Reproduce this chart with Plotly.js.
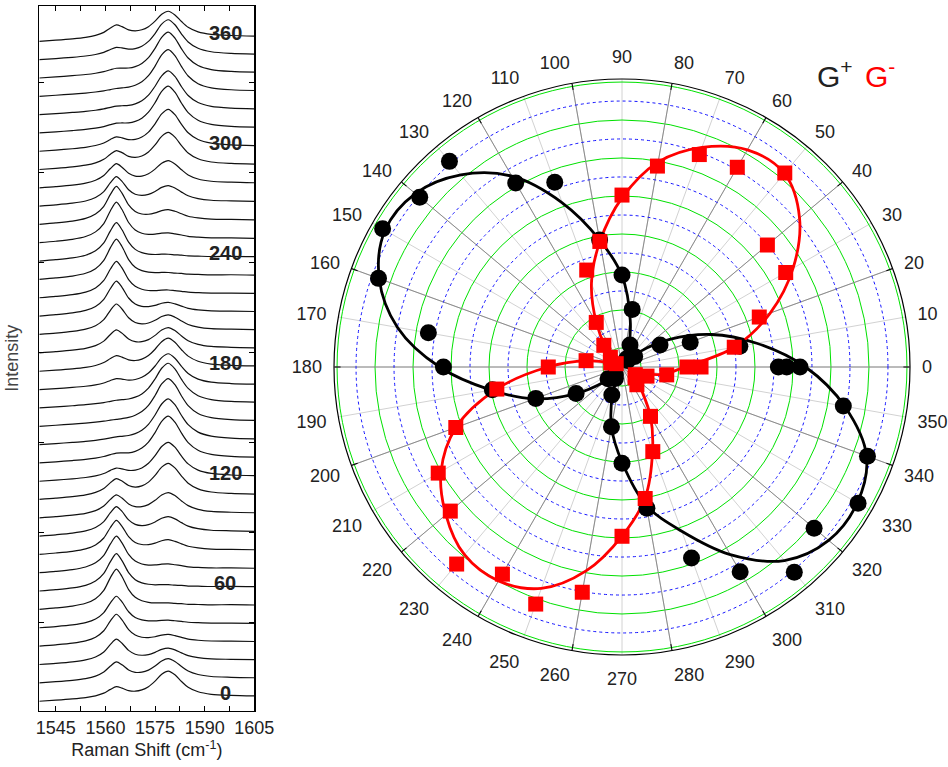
<!DOCTYPE html>
<html>
<head>
<meta charset="utf-8">
<script src="https://cdn.plot.ly/plotly-3.0.1.min.js"></script>
<style>html,body{margin:0;padding:0;background:#fff;}#chart{width:948px;height:767px;}</style>
</head>
<body>
<div id="chart"></div>
<script>
// ---------- Left panel: Raman spectra ----------
const wavenumbers = [1540,1545,1550,1554,1557,1559.5,1561.5,1563.3,1565,1567,1569,1571,1573,1575,1577,1579,1581,1583,1585,1588,1592,1598,1605];
const baselineShape = [0,0.6,1.3,1.8,2.2,2.5,2.7,2.9,3.0,3.2,3.4,3.6,3.7,3.9,4.0,4.1,4.2,4.3,4.4,4.5,4.7,4.9,5.0];
const gMinusProfile = [0.02,0.04,0.07,0.13,0.24,0.45,0.78,1.0,0.8,0.45,0.24,0.14,0.09,0.06,0.05,0.04,0.03,0.03,0.02,0.02,0.01,0.01,0.0];
const gPlusProfile  = [0.01,0.02,0.03,0.04,0.05,0.06,0.07,0.08,0.10,0.13,0.18,0.26,0.40,0.62,0.88,1.0,0.86,0.60,0.38,0.20,0.10,0.05,0.03];
const spectrumAngles = [0,10,20,30,40,50,60,70,80,90,100,110,120,130,140,150,160,170,180,190,200,210,220,230,240,250,260,270,280,290,300,310,320,330,340,350,360];
const gPlusHeights  = [26,20,12,7,3,1.5,1.5,4,10,15,21,32,35,43,42,44,41,32,29,21,15,9,3,2,2,5,10,16,23,33,38,43,40,43,42,36,26];
const gMinusHeights = [10,17,22,29,29,38,35,34,31,26,19,16,8,4,2,1,2,6,11,19,27,32,34,38,36,38,35,26,20,14,9,4,3,2,4,7,12];
const spectrumLabels = ['0','60','120','180','240','300','360'];

// ---------- Right panel: polar intensities ----------
const polarAngles = [0,10,20,30,40,50,60,70,80,90,100,110,120,130,140,150,160,170,180,190,200,210,220,230,240,250,260,270,280,290,300,310,320,330,340,350,360];
const angularTickLabels = ['0','10','20','30','40','50','60','70','80','90','100','110','120','130','140','150','160','170','180','190','200','210','220','230','240','250','260','270','280','290','300','310','320','330','340','350'];
const gPlusR  = [8.67,6.30,3.82,2.31,0.87,0.45,0.50,1.23,3.08,4.84,6.79,10.35,11.19,14.13,13.90,14.55,13.64,10.35,9.40,6.93,4.83,2.79,0.96,0.55,0.70,1.57,3.19,5.07,7.55,10.70,12.44,14.11,13.20,14.35,13.75,11.83,9.37];
const gPlusExtraTheta = [0];
const gPlusExtraR = [8.23];
const gMinusR = [3.42,6.00,7.69,9.95,9.99,13.33,12.14,11.90,10.74,9.05,6.71,5.43,2.71,1.49,0.80,0.35,0.63,1.92,3.88,6.69,9.31,11.17,11.80,13.54,12.59,13.28,12.04,8.91,7.03,4.74,3.00,1.22,0.90,0.81,1.40,2.39,4.16];
const gPlusFit  = [9.66,7.2,5.0,2.9,1.3,0.4,0.3,1.0,2.5,4.8,6.8,9.2,11.6,13.2,14.2,14.4,13.6,12.0,9.6,7.0,4.9,2.8,1.2,0.4,0.4,1.4,3.2,5.0,7.4,9.2,11.4,13.3,14.2,14.3,13.7,11.9,9.66];
const gMinusFit = [3.3,6.0,8.3,10.4,12.2,13.3,13.2,12.3,10.95,8.9,6.7,4.7,2.7,1.3,0.5,0.3,0.6,1.9,3.9,6.7,9.3,11.0,12.1,12.9,13.0,12.4,10.9,8.9,7.0,4.7,3.0,1.6,1.0,0.6,1.0,2.2,3.3];
const greenRings = [1,3,5,7,9,11,13,15];
const blueRings = [2,4,6,8,10,12,14];

// ---------- build ----------
const STEP = 18.33, BASE0 = 9;
const traces = [];
spectrumAngles.forEach((a, i) => {
  const y = wavenumbers.map((w, k) => BASE0 + STEP * i + baselineShape[k] + gMinusHeights[i] * gMinusProfile[k] + gPlusHeights[i] * gPlusProfile[k]);
  traces.push({type:'scatter', mode:'lines', x: wavenumbers, y: y, xaxis:'x', yaxis:'y',
    line:{color:'#111', width:1.2, shape:'spline', smoothing:0.8}, hoverinfo:'skip'});
});

const annotations = spectrumLabels.map(lbl => {
  const i = spectrumAngles.indexOf(Number(lbl));
  return {xref:'x', yref:'y', x:1596.2, y: BASE0 + 5 + STEP * i + 4, text:'<b>'+lbl+'</b>', showarrow:false,
    font:{family:'Liberation Sans, Arial, sans-serif', size:20, color:'#222'}, xanchor:'center', yanchor:'middle'};
});
annotations.push({xref:'paper', yref:'paper', x:815/948, y:1-74/767, xanchor:'left', yanchor:'middle', showarrow:false,
  text:'G<sup>+</sup>', font:{family:'Liberation Sans, Arial, sans-serif', size:30, color:'#222'}});
annotations.push({xref:'paper', yref:'paper', x:863/948, y:1-74/767, xanchor:'left', yanchor:'middle', showarrow:false,
  text:'G<sup>-</sup>', font:{family:'Liberation Sans, Arial, sans-serif', size:30, color:'#ff0000'}});

// invisible anchor so the underlying polar grid subplot is drawn
traces.push({type:'scatterpolar', subplot:'polar', mode:'markers', theta:[0], r:[0],
  marker:{size:1, color:'rgba(0,0,0,0)'}, hoverinfo:'skip'});
traces.push({type:'scatterpolar', subplot:'polar2', mode:'lines', theta: polarAngles, r: gPlusFit,
  line:{color:'#000', width:2.8, shape:'spline', smoothing:1}, hoverinfo:'skip'});
traces.push({type:'scatterpolar', subplot:'polar2', mode:'lines', theta: polarAngles, r: gMinusFit,
  line:{color:'#ff0000', width:2.8, shape:'spline', smoothing:1}, hoverinfo:'skip'});
traces.push({type:'scatterpolar', subplot:'polar2', mode:'markers', theta: polarAngles.concat(gPlusExtraTheta), r: gPlusR.concat(gPlusExtraR),
  marker:{symbol:'circle', size:17, color:'#000'}, hoverinfo:'skip'});
traces.push({type:'scatterpolar', subplot:'polar2', mode:'markers', theta: polarAngles, r: gMinusR,
  marker:{symbol:'square', size:15, color:'#ff0000'}, hoverinfo:'skip'});

const W = 948, H = 767;
const cx = 622, cy = 367, R = 288;
const pdom = {x:[(cx-R)/W, (cx+R)/W], y:[1-(cy+R)/H, 1-(cy-R)/H]};
const font = 'Liberation Sans, Arial, sans-serif';

const layout = {
  width: W, height: H, margin:{l:0,r:0,t:0,b:0}, showlegend:false,
  paper_bgcolor:'#fff', plot_bgcolor:'#fff',
  font:{family: font, color:'#222'},
  xaxis:{domain:[39.3/W, 254.3/W], range:[1540,1605], tickmode:'linear', tick0:1545, dtick:15,
    ticks:'inside', ticklen:5, tickcolor:'#000', tickwidth:1, mirror:'ticks', showline:true, linecolor:'#000', linewidth:1.3,
    minor:{tickmode:'linear', tick0:1545, dtick:7.5, ticks:'inside', ticklen:5, tickcolor:'#000', showgrid:false},
    showgrid:false, zeroline:false, tickfont:{size:18, family:font, color:'#222'},
    title:{text:'Raman Shift (cm<sup>-1</sup>)', font:{size:18, family:font, color:'#222'}, standoff:4}},
  yaxis:{domain:[1-710.7/H, 1-6/H], range:[0,704.7], tickmode:'array', tickvals:[88,178,268,358,448,538,628],
    ticks:'inside', ticklen:5, tickcolor:'#000', mirror:'ticks', showline:true, linecolor:'#000', linewidth:1.3,
    showticklabels:false, showgrid:false, zeroline:false,
    title:{text:'Intensity', font:{size:18, family:font, color:'#444'}, standoff:14}},
  polar:{domain:pdom, bgcolor:'#fff',
    radialaxis:{range:[0,15.16], tickmode:'array', tickvals:greenRings, showticklabels:false, ticks:'', showline:false,
      gridcolor:'rgb(0,225,0)', gridwidth:1},
    angularaxis:{rotation:0, direction:'counterclockwise', tickmode:'array', tickvals:polarAngles.slice(0,36), ticktext:angularTickLabels,
      ticksuffix:'', gridcolor:'#d2d2d2', gridwidth:1, showline:false, ticks:'outside', ticklen:8, tickcolor:'rgba(0,0,0,0)',
      tickfont:{size:18, family:font, color:'#222'}}},
  polar2:{domain:pdom, bgcolor:'rgba(0,0,0,0)',
    radialaxis:{range:[0,15.16], tickmode:'array', tickvals:blueRings, showticklabels:false, ticks:'', showline:false,
      gridcolor:'rgb(20,20,255)', gridwidth:1, griddash:'dot'},
    angularaxis:{rotation:0, direction:'counterclockwise', tickmode:'linear', tick0:0, dtick:20,
      gridcolor:'#8c8c8c', gridwidth:1, showline:true, linecolor:'#000', linewidth:1.2,
      ticks:'inside', ticklen:6, tickcolor:'#000', showticklabels:false}},
  annotations: annotations
};

Plotly.newPlot('chart', traces, layout, {staticPlot:true, displayModeBar:false});
</script>
</body>
</html>
